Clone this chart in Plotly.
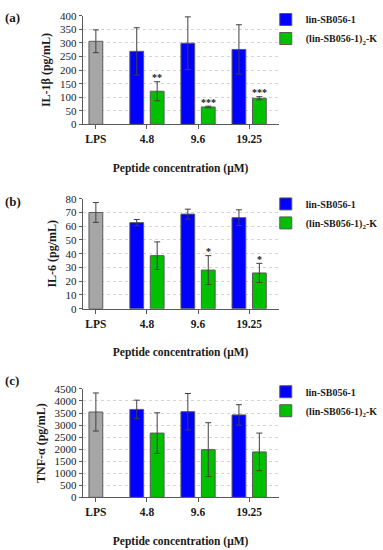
import plotly.graph_objects as go

# ---------------- data ----------------
categories = ["LPS", "4.8", "9.6", "19.25"]
concentrations = ["4.8", "9.6", "19.25"]
series_names = ["lin-SB056-1", "(lin-SB056-1)<sub>2</sub>-K"]

il1b_lps = [306]
il1b_lps_err = [42]
il1b_lin = [269, 299, 276]
il1b_lin_err = [87, 97, 91]
il1b_dim = [122, 64, 96]
il1b_dim_err = [35, 3, 6]
il1b_sig = ["**", "***", "***"]

il6_lps = [70]
il6_lps_err = [7.2]
il6_lin = [62.6, 68.8, 66.2]
il6_lin_err = [2.3, 3.6, 5.7]
il6_dim = [38.6, 28.1, 26.0]
il6_dim_err = [10.0, 10.5, 7.0]
il6_sig = ["", "*", "*"]

tnf_lps = [3543]
tnf_lps_err = [790]
tnf_lin = [3651, 3557, 3422]
tnf_lin_err = [384, 755, 425]
tnf_dim = [2668, 1981, 1886]
tnf_dim_err = [842, 1118, 782]
tnf_sig = ["", "", ""]

panel_labels = ["(a)", "(b)", "(c)"]
y_titles = ["IL-1β (pg/mL)", "IL-6 (pg/mL)", "TNF-α (pg/mL)"]
y_max = [400, 80, 4500]
y_step = [50, 10, 500]
x_title = "Peptide concentration (μM)"

# ---------------- style ----------------
W, H = 383, 550
FONT = "Liberation Serif"
GRAY = "#a6a6a6"
BLUE = "#0000ff"
GREEN = "#00c000"
EDGE = "#5a5a5a"
ERR = "#404040"
TXT = "#1a1a1a"
BW = 0.27          # bar width (category units)
GOFF = 0.2         # half distance between paired bar centres

panels = [
    (il1b_lps, il1b_lps_err, il1b_lin, il1b_lin_err, il1b_dim, il1b_dim_err, il1b_sig),
    (il6_lps, il6_lps_err, il6_lin, il6_lin_err, il6_dim, il6_dim_err, il6_sig),
    (tnf_lps, tnf_lps_err, tnf_lin, tnf_lin_err, tnf_dim, tnf_dim_err, tnf_sig),
]

# plot-area pixel boxes (top, bottom) for each panel
plot_tb = [(10, 121), (197, 309.5), (391.5, 502.3)]
x_px = (84, 283)
legend_top = [-1, 187.5, 379.5]
label_y = [12, 200, 383]

fig = go.Figure()
layout = dict(
    width=W, height=H,
    margin=dict(l=0, r=0, t=0, b=0),
    paper_bgcolor="white", plot_bgcolor="white",
    barmode="overlay",
    font=dict(family=FONT, color=TXT, size=11),
    annotations=[],
)

for k, (lps, lps_e, lin, lin_e, dim, dim_e, sig) in enumerate(panels):
    sfx = "" if k == 0 else str(k + 1)
    xa, ya = "x" + sfx, "y" + sfx
    leg = "legend" + sfx

    fig.add_trace(go.Bar(
        x=["LPS"], y=lps, xaxis=xa, yaxis=ya, name="LPS", showlegend=False,
        width=BW, offset=-BW / 2,
        marker=dict(color=GRAY, line=dict(color=EDGE, width=1)),
        error_y=dict(type="data", array=lps_e, color=ERR, thickness=1, width=3),
    ))
    fig.add_trace(go.Bar(
        x=concentrations, y=lin, xaxis=xa, yaxis=ya, name=series_names[0], legend=leg,
        width=BW, offset=-GOFF - BW / 2,
        marker=dict(color=BLUE, line=dict(color=EDGE, width=1)),
        error_y=dict(type="data", array=lin_e, color=ERR, thickness=1, width=3),
    ))
    fig.add_trace(go.Bar(
        x=concentrations, y=dim, xaxis=xa, yaxis=ya, name=series_names[1], legend=leg,
        width=BW, offset=GOFF - BW / 2,
        marker=dict(color=GREEN, line=dict(color=EDGE, width=1)),
        error_y=dict(type="data", array=dim_e, color=ERR, thickness=1, width=3),
    ))

    top, bot = plot_tb[k]
    layout["xaxis" + sfx] = dict(
        domain=[x_px[0] / W, x_px[1] / W], anchor=ya,
        type="category", categoryorder="array", categoryarray=categories,
        range=[-0.258, 3.576],
        showline=True, linecolor=EDGE, linewidth=1,
        ticks="outside", ticklen=4, tickcolor=EDGE,
        showgrid=False, ticklabelstandoff=0,
        tickfont=dict(family=FONT, size=11.5, color=TXT, weight="bold"),
        title=dict(text="<b>" + x_title + "</b>", standoff=19,
                   font=dict(family=FONT, size=11.5, color=TXT)),
    )
    layout["yaxis" + sfx] = dict(
        domain=[1 - bot / H, 1 - top / H], anchor=xa,
        range=[0, y_max[k]], dtick=y_step[k], tick0=0,
        showline=True, linecolor=EDGE, linewidth=1,
        ticks="outside", ticklen=3, tickcolor=EDGE,
        showgrid=True, gridcolor="#d4d4d4", griddash="dot", gridwidth=1,
        zeroline=False,
        tickfont=dict(family=FONT, size=11, color=TXT),
        title=dict(text="<b>" + y_titles[k] + "</b>", standoff=6,
                   font=dict(family=FONT, size=12, color=TXT)),
    )
    layout[leg] = dict(
        x=270 / W, y=1 - legend_top[k] / H, xanchor="left", yanchor="top",
        bgcolor="rgba(0,0,0,0)", borderwidth=0,
        font=dict(family=FONT, size=10, color=TXT, weight="bold"),
        itemwidth=30, tracegroupgap=0,
    )
    layout["annotations"].append(dict(
        text="<b>" + panel_labels[k] + "</b>", xref="paper", yref="paper",
        x=3 / W, y=1 - label_y[k] / H, xanchor="left", yanchor="middle",
        showarrow=False, font=dict(family=FONT, size=13, color=TXT),
    ))
    for i, s in enumerate(sig):
        if s:
            layout["annotations"].append(dict(
                text="<b>" + s + "</b>", xref=xa, yref=ya,
                x=categories.index(concentrations[i]) + GOFF, y=dim[i] + dim_e[i],
                xanchor="center", yanchor="middle", yshift=4, showarrow=False,
                font=dict(family=FONT, size=10, color=TXT),
            ))

fig.update_layout(**layout)
fig.write_html("out.html", config={"displayModeBar": False})

with open("out.html", "r", encoding="utf-8") as f:
    html = f.read()
html = html.replace("<body>", '<body style="margin:0;padding:0;">', 1)
with open("out.html", "w", encoding="utf-8") as f:
    f.write(html)
